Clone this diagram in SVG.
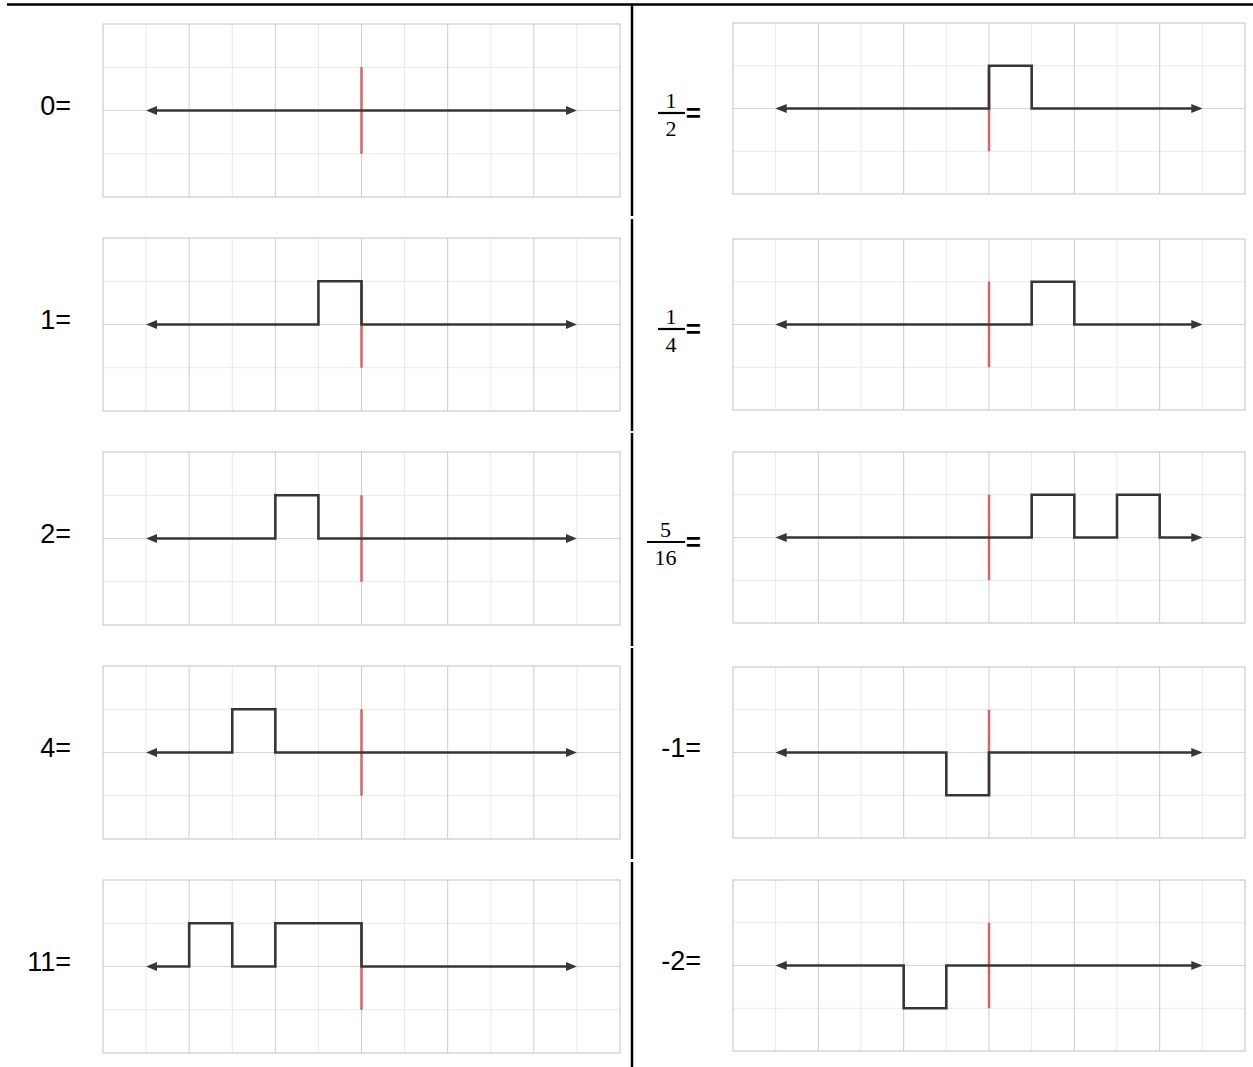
<svg xmlns="http://www.w3.org/2000/svg" xmlns:xlink="http://www.w3.org/1999/xlink" width="1253" height="1067" viewBox="0 0 1253 1067">
<style>
.minor{stroke:#e9e9e9;stroke-width:1;fill:none}
.major{stroke:#cdcdcd;stroke-width:1;fill:none}
.mid{stroke:#d6d6d6;stroke-width:1;fill:none}
.border{stroke:#c2c2c2;stroke-width:1;fill:none}
.wave{stroke:#363636;stroke-width:2.6;fill:none;stroke-linejoin:miter;marker-start:url(#arr);marker-end:url(#arr)}
.zero{stroke:#d46565;stroke-width:2.5;fill:none}
.lbl{font-family:"Liberation Sans",Arial,sans-serif;font-size:27px;fill:#000;text-anchor:end}
.eq{font-family:"Liberation Sans",Arial,sans-serif;font-size:26px;font-weight:bold;fill:#000;text-anchor:end}
.frac{font-family:"Liberation Serif","DejaVu Serif",serif;font-size:22px;fill:#000;text-anchor:middle}
.bar{stroke:#000;stroke-width:2.2;fill:none}
.sep{stroke:#000;stroke-width:2.5;fill:none}
</style>
<defs>
<marker id="arr" viewBox="0 0 11 9" markerWidth="11" markerHeight="9" refX="2" refY="4.5" orient="auto-start-reverse" markerUnits="userSpaceOnUse">
<path d="M0,0 L11,4.5 L0,9 z" fill="#363636"/>
</marker>
<g id="gridL">
<path class="minor" d="M43.08,0V173M129.25,0V173M215.42,0V173M301.58,0V173M387.75,0V173M473.92,0V173M0,43.25H517M0,129.75H517"/>
<path class="major" d="M86.17,0V173M172.33,0V173M258.5,0V173M344.67,0V173M430.83,0V173"/>
<path class="mid" d="M0,86.5H517"/>
<rect class="border" x="0" y="0" width="517" height="173"/>
</g>
<g id="gridR">
<path class="minor" d="M42.67,0V171M128,0V171M213.33,0V171M298.67,0V171M384,0V171M469.33,0V171M0,42.75H512M0,128.25H512"/>
<path class="major" d="M85.33,0V171M170.67,0V171M256,0V171M341.33,0V171M426.67,0V171"/>
<path class="mid" d="M0,85.5H512"/>
<rect class="border" x="0" y="0" width="512" height="171"/>
</g>
</defs>
<rect width="1253" height="1067" fill="#fff"/>

<g id="frame">
<path class="sep" d="M7,4.5H1253"/>
<path class="sep" d="M632,4V216M632,219V431M632,433V646M632,648V859M632,862V1067"/>
</g>

<g id="p-0">
<use xlink:href="#gridL" x="103" y="24"/>
<path class="zero" d="M361.5,67.25V153.75"/>
<path class="wave" d="M155.08,110.5H567.92"/>
<text class="lbl" x="71" y="115">0=</text>
</g>

<g id="p-1">
<use xlink:href="#gridL" x="103" y="238"/>
<path class="zero" d="M361.5,281.25V367.75"/>
<path class="wave" d="M155.08,324.5H318.42V281.25H361.5V324.5H567.92"/>
<text class="lbl" x="71" y="329">1=</text>
</g>

<g id="p-2">
<use xlink:href="#gridL" x="103" y="452"/>
<path class="zero" d="M361.5,495.25V581.75"/>
<path class="wave" d="M155.08,538.5H275.33V495.25H318.42V538.5H567.92"/>
<text class="lbl" x="71" y="543">2=</text>
</g>

<g id="p-4">
<use xlink:href="#gridL" x="103" y="666"/>
<path class="zero" d="M361.5,709.25V795.75"/>
<path class="wave" d="M155.08,752.5H232.25V709.25H275.33V752.5H567.92"/>
<text class="lbl" x="71" y="757">4=</text>
</g>

<g id="p-11">
<use xlink:href="#gridL" x="103" y="880"/>
<path class="zero" d="M361.5,923.25V1009.75"/>
<path class="wave" d="M155.08,966.5H189.17V923.25H232.25V966.5H275.33V923.25H361.5V966.5H567.92"/>
<text class="lbl" x="71" y="971">11=</text>
</g>

<g id="p-half">
<use xlink:href="#gridR" x="733" y="23"/>
<path class="zero" d="M989,65.75V151.25"/>
<path class="wave" d="M784.67,108.5H989V65.75H1031.67V108.5H1193.33"/>
<text class="frac" x="671" y="107.5">1</text>
<path class="bar" d="M658,113H685"/>
<text class="frac" x="671" y="135.5">2</text>
<text class="eq" x="701" y="122">=</text>
</g>

<g id="p-quarter">
<use xlink:href="#gridR" x="733" y="239"/>
<path class="zero" d="M989,281.75V367.25"/>
<path class="wave" d="M784.67,324.5H1031.67V281.75H1074.33V324.5H1193.33"/>
<text class="frac" x="671" y="323.5">1</text>
<path class="bar" d="M658,329H685"/>
<text class="frac" x="671" y="351.5">4</text>
<text class="eq" x="701" y="338">=</text>
</g>

<g id="p-5-16">
<use xlink:href="#gridR" x="733" y="452"/>
<path class="zero" d="M989,494.75V580.25"/>
<path class="wave" d="M784.67,537.5H1031.67V494.75H1074.33V537.5H1117V494.75H1159.67V537.5H1193.33"/>
<text class="frac" x="665.5" y="536.5">5</text>
<path class="bar" d="M647,542H685"/>
<text class="frac" x="665.5" y="564.5">16</text>
<text class="eq" x="701" y="551">=</text>
</g>

<g id="p-neg1">
<use xlink:href="#gridR" x="733" y="667"/>
<path class="zero" d="M989,709.75V795.25"/>
<path class="wave" d="M784.67,752.5H946.33V795.25H989V752.5H1193.33"/>
<text class="lbl" x="701" y="757">-1=</text>
</g>

<g id="p-neg2">
<use xlink:href="#gridR" x="733" y="880"/>
<path class="zero" d="M989,922.75V1008.25"/>
<path class="wave" d="M784.67,965.5H903.67V1008.25H946.33V965.5H1193.33"/>
<text class="lbl" x="701" y="970">-2=</text>
</g>
</svg>
